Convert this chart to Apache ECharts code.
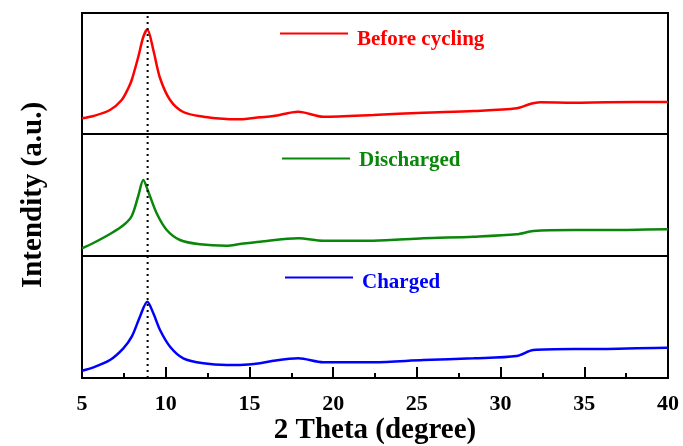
<!DOCTYPE html>
<html><head><meta charset="utf-8">
<script src="https://cdn.jsdelivr.net/npm/echarts@6/dist/echarts.min.js"></script>
<style>html,body{margin:0;padding:0;background:#fff}#c{width:683px;height:446px}</style>
</head><body><div id="c"></div>
<script>
// 2θ positions and intensities (a.u.)
var beforeX = [5,5.68,6.67,7.37,7.77,7.97,8.36,8.66,8.9,9.26,9.66,10.26,11.05,12.25,13.64,14.44,15.63,16.43,17.92,19.41,22.4,25.39,28.38,30.96,31.76,32.36,34.35,36.34,39.93,40];
var beforeY = [15.7,18,24,34,46,54,77,97,104.5,84,56,34,22,17.3,15,14.7,16.7,18,22.3,17.3,19,21.3,23,25.7,30,31.7,31.3,31.7,32,32];
var dischX = [5,5.68,6.67,7.47,7.97,8.36,8.66,8.96,9.46,10.06,10.85,12.05,13.64,14.44,15.63,17.92,19.41,22.4,25.39,28.38,30.96,31.96,34.35,36.34,39.93,40];
var dischY = [7.7,13,22,30.7,40,60,76,64.3,42.7,26,16,11.7,10.3,12,14.3,17.7,15.3,15.3,17.7,19.3,21.7,25,26,26,26.7,26.7];
var chargX = [5,5.68,6.67,7.47,7.97,8.46,8.9,9.26,9.66,10.26,11.05,12.25,13.64,14.44,15.63,16.43,17.92,19.41,22.4,25.39,28.38,30.96,31.96,34.35,36.34,39.93,40];
var chargY = [7.3,10.7,18,29.7,41.3,61.3,76.3,64.7,48,31.3,19.7,14.7,13,13,14.7,17.3,19.7,15.7,15.7,18,19.7,22,28,29,29,30.3,30.3];
var peakX = 8.92;
var seriesNames = ['Before cycling','Discharged','Charged'];
var xTicks = [5,10,15,20,25,30,35,40];

function pairs(xs, ys){ return xs.map(function(x,i){return [x, ys[i]];}); }

var font = '"Times New Roman","Liberation Serif",serif';
var colors = ['#ff0000','#0a870a','#0000ff'];
var grids = [
  {left:82, right:15, top:13, height:121},
  {left:82, right:15, top:134, height:122},
  {left:82, right:15, top:256, height:122},
  {left:82, right:15, top:13, height:365}
];
grids.forEach(function(g,i){ g.outerBoundsMode='none'; g.containLabel=false;
  if(i<3){g.show=true; g.borderColor='#000'; g.borderWidth=2;} });

var xAxes = [];
for (var i=0;i<4;i++){
  var ax = {type:'value', gridIndex:i, min:5, max:40, interval:5, show: i===2,
    axisLine:{show:true, lineStyle:{color:'#000', width:2}},
    axisTick:{show:true, inside:true, length:11, lineStyle:{color:'#000', width:2}},
    minorTick:{show:true, splitNumber:2, length:5, lineStyle:{color:'#000', width:2}},
    splitLine:{show:false},
    axisLabel:{show:true, margin:15, color:'#000', fontFamily:font, fontWeight:'bold', fontSize:22,
      formatter:function(v){return xTicks.indexOf(v)>=0 ? String(v) : '';}}
  };
  if (i===2){ ax.name='2 Theta (degree)'; ax.nameLocation='middle'; ax.nameGap=37;
    ax.nameTextStyle={color:'#000', fontFamily:font, fontWeight:'bold', fontSize:29}; }
  xAxes.push(ax);
}
var yAxes = [];
for (var j=0;j<4;j++){
  var ya = {type:'value', gridIndex:j, min:0, max:(j===3?1:(j===0?121:122)),
    axisLine:{show:false}, axisTick:{show:false}, axisLabel:{show:false}, splitLine:{show:false}};
  if (j===1){ ya.name='Intendity (a.u.)'; ya.nameLocation='middle'; ya.nameGap=34; ya.nameRotate=90;
    ya.nameTextStyle={color:'#000', fontFamily:font, fontWeight:'bold', fontSize:29}; }
  yAxes.push(ya);
}

var datasets = [pairs(beforeX,beforeY), pairs(dischX,dischY), pairs(chargX,chargY)];
var series = datasets.map(function(d,i){
  return {name:seriesNames[i], type:'line', xAxisIndex:i, yAxisIndex:i, data:d, showSymbol:false,
    smooth:0.3, lineStyle:{color:colors[i], width:2.5}, itemStyle:{color:colors[i]}, silent:true, z:3};
});
series.push({name:'peak', type:'line', xAxisIndex:3, yAxisIndex:3, data:[[peakX,0],[peakX,1]],
  showSymbol:false, lineStyle:{color:'#000', width:2, type:[2,4]}, silent:true, z:4});

var legendPos = [{left:280, top:29, pad:12},{left:282, top:150, pad:4},{left:285, top:272, pad:10}];
var legends = seriesNames.map(function(n,i){
  return {data:[n], left:legendPos[i].left, top:legendPos[i].top, icon:'rect', itemWidth:68, itemHeight:2,
    itemGap:0, padding:0, selectedMode:false, formatter:'{t|{name}}',
    textStyle:{color:colors[i], fontFamily:font, fontWeight:'bold', fontSize:21,
      rich:{t:{color:colors[i], fontFamily:font, fontWeight:'bold', fontSize:21, padding:[legendPos[i].pad,0,0,4]}}}};
});

var chart = echarts.init(document.getElementById('c'), null, {renderer:'canvas'});
chart.setOption({animation:false, backgroundColor:'#fff', grid:grids, xAxis:xAxes, yAxis:yAxes,
  legend:legends, series:series});
</script></body></html>
